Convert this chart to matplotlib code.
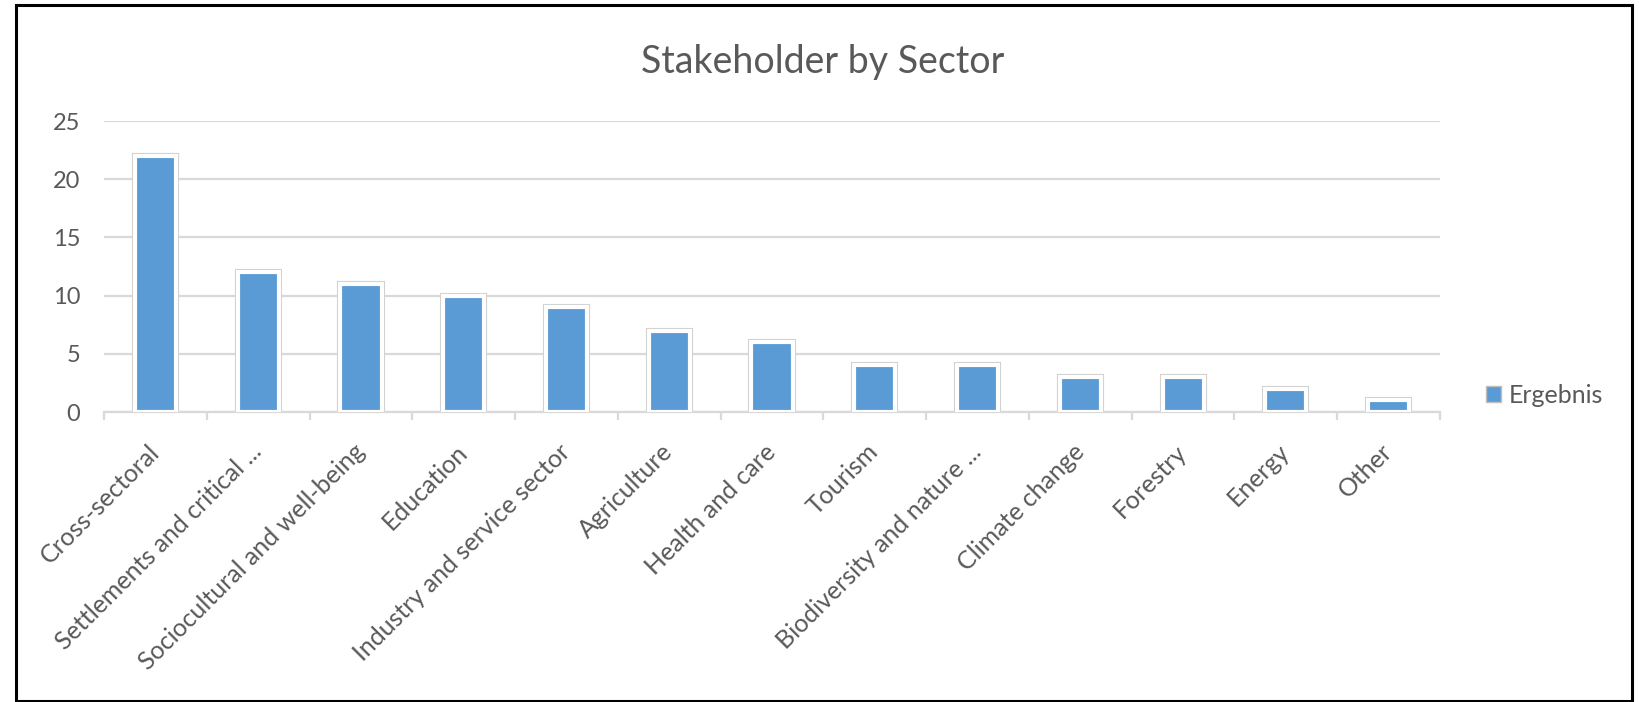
import matplotlib
matplotlib.use("Agg")
import matplotlib.pyplot as plt
from matplotlib.patches import Rectangle

# ----- data -----
SECTORS = ["Cross-sectoral", "Settlements and critical ...", "Sociocultural and well-being",
           "Education", "Industry and service sector", "Agriculture", "Health and care",
           "Tourism", "Biodiversity and nature ...", "Climate change", "Forestry", "Energy", "Other"]
COUNTS = [22, 12, 11, 10, 9, 7, 6, 4, 4, 3, 3, 2, 1]
YTICKS = [0, 5, 10, 15, 20, 25]

BLUE, GRID, TXT = "#5B9BD5", "#D9D9D9", "#595959"
plt.rcParams["font.family"] = ["Lato", "DejaVu Sans"]

fig = plt.figure(figsize=(16.39, 7.02), dpi=100)
ax = fig.add_axes([0.0635, 0.4131, 0.8151, 0.4145])

x = range(len(SECTORS))
# gray outline + white border + blue fill, like the Excel bar style
ax.bar(x, COUNTS, width=0.40, color="white", edgecolor="#CFCFCF", lw=4.4, zorder=2)
ax.bar(x, COUNTS, width=0.40, color=BLUE, edgecolor="white", lw=3.0, zorder=3)

ax.set_xlim(-0.5, len(SECTORS) - 0.5)
ax.set_ylim(0, 25)
ax.set_yticks(YTICKS)
ax.yaxis.grid(True, color=GRID, lw=1.6, zorder=0)
ax.set_axisbelow(True)
for s in ("top", "right", "left"):
    ax.spines[s].set_visible(False)
ax.spines["bottom"].set_color(GRID)
ax.spines["bottom"].set_linewidth(1.6)
ax.tick_params(axis="y", length=0, pad=17, labelsize=17, labelcolor=TXT)

ax.set_xticks(list(x))
ax.set_xticklabels(SECTORS, rotation=45, ha="right", va="center", rotation_mode="anchor",
                   fontsize=18, color=TXT)
ax.tick_params(axis="x", which="major", length=0, pad=26)
ax.set_xticks([i - 0.5 for i in range(len(SECTORS) + 1)], minor=True)
ax.tick_params(axis="x", which="minor", length=6, width=1.6, color=GRID, direction="out")

fig.text(0.502, 0.912, "Stakeholder by Sector", ha="center", va="center", fontsize=27, color=TXT)

handle = Rectangle((0, 0), 1, 1, facecolor=BLUE, edgecolor="#BFBFBF", lw=1.0)
fig.legend([handle], ["Ergebnis"], loc="center left", bbox_to_anchor=(0.893, 0.437),
           frameon=False, fontsize=18, handlelength=0.6, handleheight=0.6,
           handletextpad=0.3, labelcolor=TXT)

# outer chart frame
fig.add_artist(Rectangle((16 / 1639, 0.002), (1632 - 16) / 1639, 1 - 5 / 702 - 0.002,
                         transform=fig.transFigure, fill=False, edgecolor="black", lw=2.2))

fig.savefig("out.png", dpi=100)
